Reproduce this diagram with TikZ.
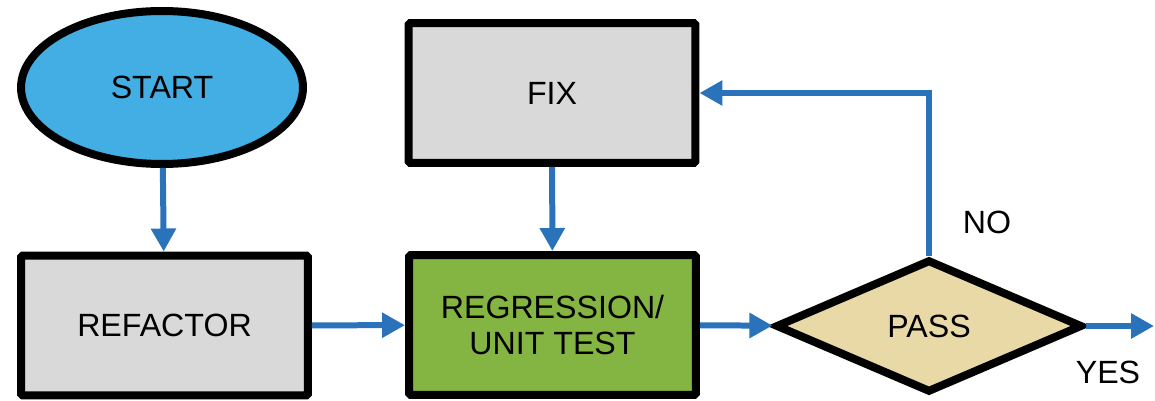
\documentclass[tikz,border=0pt]{standalone}
\usepackage{fontspec}
\setmainfont{Liberation Sans}
\usetikzlibrary{arrows.meta,shapes.geometric}
\definecolor{startblue}{RGB}{66,174,227}
\definecolor{boxgray}{RGB}{217,217,217}
\definecolor{testgreen}{RGB}{132,180,65}
\definecolor{passtan}{RGB}{233,217,167}
\definecolor{flowblue}{RGB}{42,114,186}
\tikzset{
  label text/.style={font=\fontsize{18.3}{20.5}\selectfont},
  startnode/.style={label text, draw, ellipse, line width=0.16cm, fill=startblue,
    minimum width=5.64cm, minimum height=3.06cm, inner sep=0pt},
  block/.style={label text, draw, rectangle, rounded corners=1pt, line width=0.16cm,
    minimum width=5.74cm, minimum height=2.8cm, inner sep=0pt, align=center},
  decision/.style={label text, draw, diamond, line width=0.16cm, fill=passtan,
    minimum width=6.14cm, minimum height=2.66cm, inner sep=0pt},
  flow/.style={draw=flowblue, line width=0.12cm, -{Triangle[width=0.48cm,length=0.46cm]}}
}
\begin{document}
\begin{tikzpicture}[x=0.02cm, y=-0.02cm]
            \useasboundingbox (0, 0) rectangle (1155, 401);

            \node[startnode] (start) at (162, 87.5) {START};
            \node[block, fill=boxgray] (refactor) at (164.5, 325.5) {REFACTOR};
            \node[block, fill=boxgray] (fix) at (552, 93) {FIX};
            \node[block, fill=testgreen] (test) at (552.5, 325) {REGRESSION/\\UNIT TEST};
            \node[decision] (pass) at (929, 326) {PASS};

            \node[label text] (no) at (987, 222) {NO};
            \node[label text] (yes) at (1108, 372) {YES};
            \coordinate (exit) at (1154, 326);

            \draw[flow] (start) -- (refactor);
            \draw[flow] (refactor) -- (test);
            \draw[flow] (fix) -- (test);
            \draw[flow] (test) -- (pass);
            \draw[flow] (pass.north) |- (fix.east);
            \draw[flow] (pass.east) -- (exit);
\end{tikzpicture}
\end{document}
